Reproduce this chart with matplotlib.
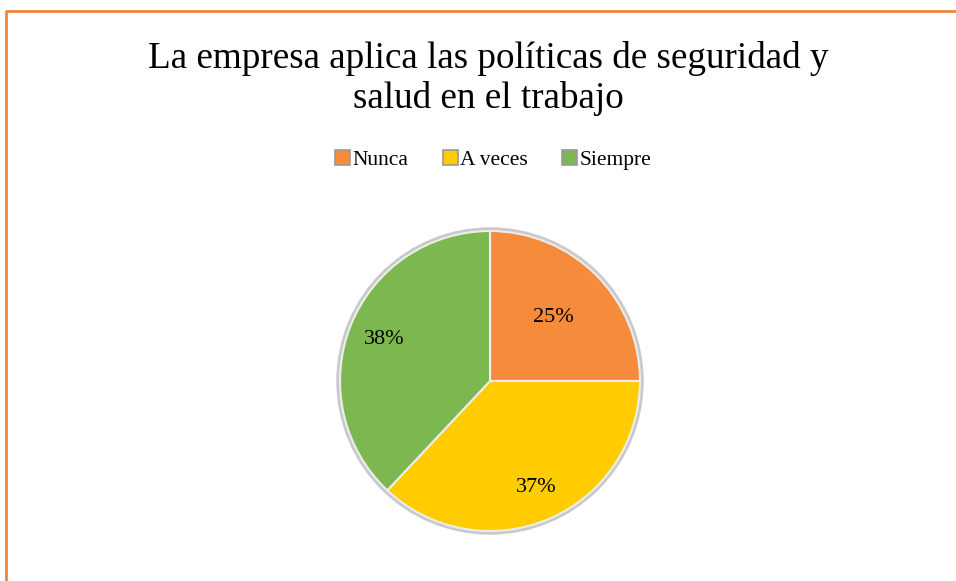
import matplotlib
matplotlib.use("Agg")
import matplotlib.pyplot as plt
from matplotlib.lines import Line2D
from matplotlib.patches import Circle, Patch
import numpy as np

categories = ["Nunca", "A veces", "Siempre"]
values = [25, 37, 38]
colors = ["#F68B3C", "#FFCC00", "#7CB84F"]
label_dist = [0.6, 0.77, 0.76]

plt.rcParams["font.family"] = ["Liberation Serif", "DejaVu Serif"]

W, H = 956, 581
fig = plt.figure(figsize=(W / 100, H / 100), dpi=100)
fig.patch.set_facecolor("white")

# orange frame (only top and left visible)
fig.add_artist(Line2D([6 / W, 6 / W, 1.0], [0, 1 - 11 / H, 1 - 11 / H],
                      transform=fig.transFigure, color="#F0843A", lw=2))

title_x = 0.5 + 10 / W
fig.text(title_x, 1 - 58 / H, "La empresa aplica las políticas de seguridad y",
         ha="center", va="center", fontsize=26.7)
fig.text(title_x, 1 - 99 / H, "salud en el trabajo",
         ha="center", va="center", fontsize=26.7)

cx, cy, r = 490, 381, 156
ax = fig.add_axes([(cx - r) / W, (H - cy - r) / H, 2 * r / W, 2 * r / H])
ax.add_patch(Circle((0, 0), 1.02, color="#C9C9C9", zorder=0))
wedges, _ = ax.pie(values, colors=colors, startangle=90, counterclock=False,
                   radius=1.0,
                   wedgeprops=dict(edgecolor="#EDEDED", linewidth=1.5))
for w, v, d in zip(wedges, values, label_dist):
    w.set_zorder(1)
    ang = np.deg2rad((w.theta1 + w.theta2) / 2)
    ax.text(d * np.cos(ang), d * np.sin(ang), f"{v}%", ha="center",
            va="center", fontsize=16, zorder=3)
ax.set_xlim(-1.04, 1.04)
ax.set_ylim(-1.04, 1.04)
ax.set_aspect("equal")
ax.axis("off")

handles = [Patch(facecolor=c, edgecolor="#9A9A9A", linewidth=1.2) for c in colors]
fig.legend(handles, categories, loc="center",
           bbox_to_anchor=(0.5 + 15 / W, 1 - 160 / H),
           ncol=3, frameon=False, fontsize=15.5, handlelength=0.7,
           handleheight=0.7, handletextpad=0.1, columnspacing=1.6)

fig.savefig("out.png", dpi=100, facecolor="white")
